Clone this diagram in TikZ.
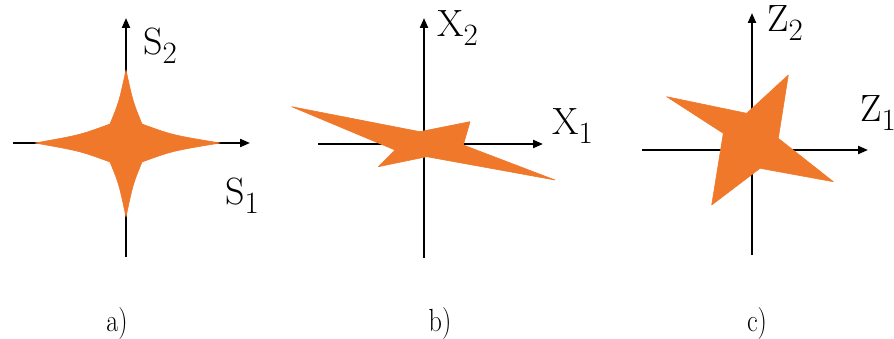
\documentclass[tikz,border=0pt]{standalone}
\usetikzlibrary{arrows.meta}
\definecolor{starorange}{RGB}{240,120,42}
\newcommand\axlab[2]{\fontsize{38}{38}\selectfont #1\raisebox{-9pt}{\fontsize{31}{31}\selectfont #2}}
\newcommand\sublab[1]{\scalebox{0.82}[1]{\fontsize{32}{32}\selectfont #1}}
\tikzset{
  axisline/.style={line width=2.1pt, black},
  axisarrow/.style={axisline, -{Triangle[length=10pt,width=8pt]}},
  starshape/.style={fill=starorange, draw=starorange, line width=0.6pt, line join=round},
  lab/.style={inner sep=0pt, anchor=base west},
  caplab/.style={inner sep=0pt, anchor=base}
}
\begin{document}
\begin{tikzpicture}[x=1pt,y=-1pt]
\useasboundingbox (0,0) rectangle (894,339);
% ---------- panel a ----------
\coordinate (aT) at (126,18);
\coordinate (aB) at (126,257);
\coordinate (aL) at (13,143);
\coordinate (aR) at (250,143);
\draw[axisline] (aB) -- (126,143);
\draw[axisarrow] (126,143) -- (aT);
\draw[axisarrow] (aL) -- (aR);
\fill[starshape] (126,70) .. controls (133,102) .. (142,124)
  .. controls (172,135) .. (220,143)
  .. controls (172,151) .. (142,162)
  .. controls (133,184) .. (126,217)
  .. controls (119,184) .. (110,162)
  .. controls (80,151) .. (35,143)
  .. controls (80,135) .. (110,124)
  .. controls (119,102) .. cycle;
\node[lab] (s2) at (143,55) {\axlab{S}{2}};
\node[lab] (s1) at (225,205) {\axlab{S}{1}};
% ---------- panel b ----------
\coordinate (bT) at (424,18);
\coordinate (bB) at (424,258);
\coordinate (bL) at (318,144);
\coordinate (bR) at (543,144);
\draw[axisline] (bB) -- (424,144);
\draw[axisarrow] (424,144) -- (bT);
\draw[axisarrow] (bL) -- (bR);
\fill[starshape] (291.7,106.7) -- (420,131.7) -- (470,121.7) -- (463.3,145)
  -- (555,180) -- (426.7,156.7) -- (378.3,166.7) -- (395,150) -- cycle;
\node[lab] (x2) at (437,37) {\axlab{X}{2}};
\node[lab] (x1) at (552,135) {\axlab{X}{1}};
% ---------- panel c ----------
\coordinate (cT) at (752,13);
\coordinate (cB) at (752,255);
\coordinate (cL) at (642,150);
\coordinate (cR) at (868,150);
\draw[axisline] (cB) -- (752,150);
\draw[axisarrow] (752,150) -- (cT);
\draw[axisarrow] (cL) -- (cR);
\fill[starshape] (666.7,96.7) -- (746.7,113.3) -- (788.3,75) -- (778.3,138.3)
  -- (833.3,181.7) -- (760,168.3) -- (711.7,205) -- (723.3,133.3) -- cycle;
\node[lab] (z2) at (767,32) {\axlab{Z}{2}};
\node[lab] (z1) at (860,122) {\axlab{Z}{1}};
% ---------- captions ----------
\node[caplab] (capa) at (117,331) {\sublab{a)}};
\node[caplab] (capb) at (440,331) {\sublab{b)}};
\node[caplab] (capc) at (757,331) {\sublab{c)}};
\end{tikzpicture}
\end{document}
